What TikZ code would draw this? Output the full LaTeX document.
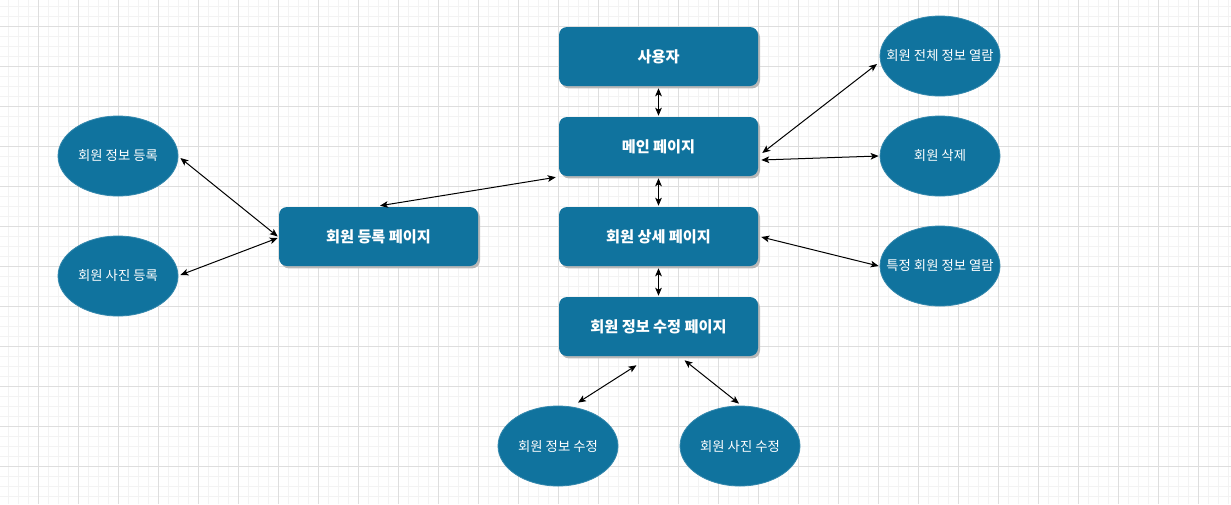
\documentclass[tikz,border=0pt]{standalone}
\usepackage{fontspec}
\newfontfamily\kr{Noto Sans CJK KR}
\usetikzlibrary{arrows.meta,calc,shapes.geometric,shadows}
\definecolor{boxblue}{HTML}{10739E}
\definecolor{minorgrid}{HTML}{F3F3F3}
\definecolor{majorgrid}{HTML}{DEDEDE}
\definecolor{shadowgray}{HTML}{B8B8B8}
\newcommand{\fitin}[1]{\makebox[0pt][c]{#1}}
\begin{document}
\begin{tikzpicture}[x=0.75pt,y=-0.75pt,
  pagebox/.style={rectangle, rounded corners=6pt, fill=boxblue, draw=none,
    minimum width=149.25pt, minimum height=44.25pt, inner sep=0pt,
    text=white, font=\kr\bfseries\fontsize{11.4}{13}\selectfont,
    general shadow={fill=shadowgray, shadow xshift=1.5pt, shadow yshift=-1.8pt}},
  usecase/.style={ellipse, fill=boxblue, draw=boxblue!85!white, line width=0.6pt,
    minimum width=90pt, minimum height=60pt, inner sep=0pt,
    text=white, font=\kr\fontsize{10}{12}\selectfont},
  link/.style={{Stealth[length=6pt,width=5pt,inset=1.5pt]}-{Stealth[length=6pt,width=5pt,inset=1.5pt]}, line width=0.75pt, black}
]
\useasboundingbox (0,0) rectangle (1231,504);
\fill[white] (0,0) rectangle (1231,504);
% grid
\foreach \x in {8,18,...,1228} \draw[minorgrid, line width=0.5pt] (\x,0) -- (\x,504);
\foreach \y in {6,16,...,496} \draw[minorgrid, line width=0.5pt] (0,\y) -- (1231,\y);
\foreach \x in {38,78,...,1198} \draw[majorgrid, line width=0.6pt] (\x,0) -- (\x,504);
\foreach \y in {26,66,...,506} \draw[majorgrid, line width=0.6pt] (0,\y) -- (1231,\y);

% page boxes
\node[pagebox] (user)   at (658.5,56.5)  {사용자};
\node[pagebox] (main)   at (658.5,146.5) {메인 페이지};
\node[pagebox] (detail) at (658.5,236.5) {회원 상세 페이지};
\node[pagebox] (edit)   at (658.5,326.5) {회원 정보 수정 페이지};
\node[pagebox] (reg)    at (378.5,236.5) {회원 등록 페이지};

% use cases
\node[usecase] (eall)   at (940,56)  {\fitin{회원 전체 정보 열람}};
\node[usecase] (edel)   at (940,156) {\fitin{회원 삭제}};
\node[usecase] (espec)  at (940,266) {\fitin{특정 회원 정보 열람}};
\node[usecase] (einfo)  at (118,156) {\fitin{회원 정보 등록}};
\node[usecase] (ephoto) at (118,276) {\fitin{회원 사진 등록}};
\node[usecase] (eeinfo) at (558,446) {\fitin{회원 정보 수정}};
\node[usecase] (eephoto) at (740,446) {\fitin{회원 사진 수정}};

% connectors
\draw[link] ($(user.south)+(0,2)$) -- ($(main.north)+(0,-1)$);
\draw[link] ($(main.south)+(0,2)$) -- ($(detail.north)+(0,-1)$);
\draw[link] ($(detail.south)+(0,2)$) -- ($(edit.north)+(0,-1)$);
\draw[link] ($(main.east)+(4,6.5)$) -- ($(eall.center)+(-63,8)$);
\draw[link] ($(main.east)+(3,13.5)$) -- ($(edel.west)+(-1,0)$);
\draw[link] ($(detail.east)+(3,0.5)$) -- ($(espec.west)+(-1,0)$);
\draw[link] ($(reg.north)+(1.5,-1)$) -- ($(main.south west)+(-3,1)$);
\draw[link] ($(einfo.east)+(2,2)$) -- ($(reg.west)+(-1,0)$);
\draw[link] ($(ephoto.east)+(2,-1)$) -- ($(reg.west)+(-1,1.5)$);
\draw[link] ($(edit.south)+(-22,9)$) -- ($(eeinfo.north)+(20,-3)$);
\draw[link] ($(edit.south)+(26,4)$) -- ($(eephoto.north)+(-1,-2)$);
\end{tikzpicture}
\end{document}
